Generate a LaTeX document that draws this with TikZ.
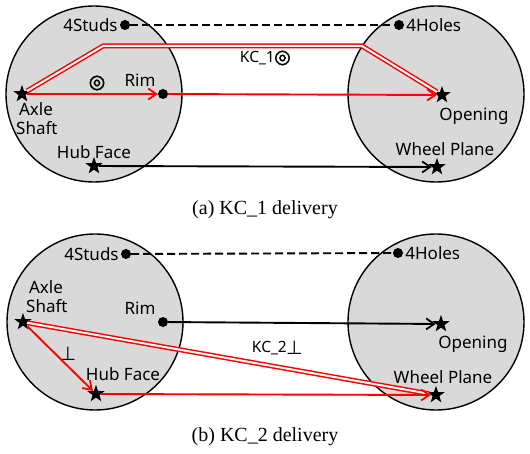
\documentclass[tikz,border=0pt]{standalone}
\usepackage{fontspec}
\setmainfont{Liberation Serif}
\setsansfont{Noto Sans}
\newfontfamily\symfont{DejaVu Sans}
\newfontfamily\ringfont[FakeBold=2]{DejaVu Sans}
\usetikzlibrary{shapes.geometric,arrows.meta}
\tikzset{part/.style={draw=black,fill=black!15,line width=1.4pt},
  dot/.style={circle,fill=black,inner sep=0pt,minimum size=10pt},
  pin/.style={star,star points=5,star point ratio=2.5,fill=black,inner sep=0pt,minimum size=18pt},
  lbl/.style={font=\sffamily\fontsize{17}{19}\selectfont,inner sep=2pt,align=left},
  kclbl/.style={font=\sffamily\fontsize{15.5}{17}\selectfont,inner sep=1pt},
  ring/.style={font=\ringfont\fontsize{19}{20}\selectfont,inner sep=0pt},
  perp/.style={font=\symfont\fontsize{19}{20}\selectfont,inner sep=0pt},
  tip/.style={-{Straight Barb[length=8pt,width=11pt,line width=1.8pt]}},
  kc/.style={red,line width=1.9pt},
  dkc/.style={red,double=white,double distance=2pt,line width=1.5pt},
  mate/.style={black,line width=1.9pt},
  subcap/.style={font=\fontsize{20}{24}\selectfont,inner sep=0pt}}

\begin{document}
\begin{tikzpicture}[x=1pt,y=-1pt]
  \useasboundingbox (0,0) rectangle (530,454);
  % (a) KC_1
  \begin{scope}
   \draw[part] (94,94) circle (88);
   \draw[part] (436,94) circle (88);
   \node[dot] (s) at (125,25) {};
   \node[dot] (h) at (399,25) {};
   \node[pin] (a) at (22,94) {};
   \node[dot] (r) at (163,94) {};
   \node[pin] (o) at (442,95) {};
   \node[pin] (f) at (94,166) {};
   \node[pin] (w) at (437,167) {};
   \node[lbl,anchor=east] at (s.west) {4Studs};
   \node[lbl,anchor=west] at (h.east) {4Holes};
   \node[lbl,anchor=north west] at (14,100) {\,Axle\\Shaft};
   \node[lbl] at (140,80) {Rim};
   \node[lbl] at (474,116) {Opening};
   \node[lbl] at (94,152) {Hub Face};
   \node[lbl] at (445,149) {Wheel Plane};
   \node[ring] at (97,83) {◎};
   \node[kclbl,anchor=east] (k) at (276,58) {KC\_1};
   \node[ring,anchor=west,xshift=-2pt] at (k.east) {◎};
   \draw[mate,dashed,dash pattern=on 8pt off 4pt] (s) -- (h);
   \draw[dkc] (a) -- (103,46) -- (362,46) -- (o);
   \draw[kc,tip] (a) -- (r);
   \draw[kc,tip] (r) -- (o);
   \draw[mate,tip] (f) -- (w);
  \end{scope}
  \node[subcap] (ca) at (265,210) {(a) KC\_1 delivery};
  % (b) KC_2
  \begin{scope}
   \draw[part] (95,322) circle (88);
   \draw[part] (436,322) circle (88);
   \node[dot] (s) at (126,254) {};
   \node[dot] (h) at (398,253) {};
   \node[pin] (a) at (23,322) {};
   \node[dot] (r) at (163,322) {};
   \node[pin] (o) at (441,324) {};
   \node[pin] (f) at (96,394) {};
   \node[pin] (w) at (436,395) {};
   \node[lbl,anchor=east] at (s.west) {4Studs};
   \node[lbl,anchor=west] at (h.east) {4Holes};
   \node[lbl,anchor=south west] at (24,315) {\,Axle\\Shaft};
   \node[lbl] at (140,308) {Rim};
   \node[lbl] at (473,344) {Opening};
   \node[lbl] at (123,374) {Hub Face};
   \node[lbl] at (443,377) {Wheel Plane};
   \node[perp] at (68,354) {⊥};
   \node[kclbl,anchor=east] (k) at (288,348) {KC\_2};
   \node[perp,anchor=west,xshift=-2pt] at (k.east) {⊥};
   \draw[mate,dashed,dash pattern=on 8pt off 4pt] (s) -- (h);
   \draw[mate,tip] (r) -- (o);
   \draw[dkc] (a) -- (w);
   \draw[kc,tip] (a) -- (f);
   \draw[kc,tip] (f) -- (w);
  \end{scope}
  \node[subcap] (cb) at (265,437) {(b) KC\_2 delivery};
\end{tikzpicture}
\end{document}
